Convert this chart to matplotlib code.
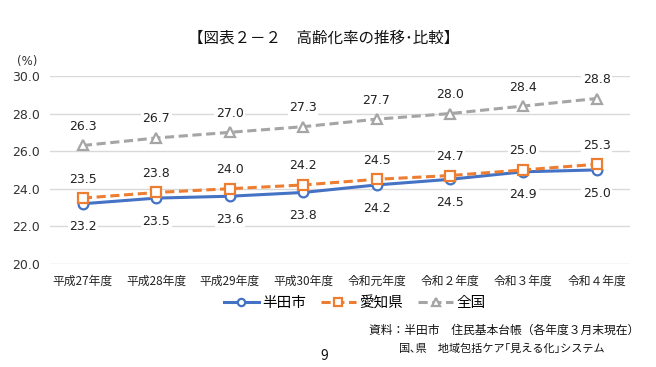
import matplotlib
matplotlib.use("Agg")
import matplotlib.pyplot as plt

plt.rcParams['font.family'] = ['Noto Sans CJK JP', 'DejaVu Sans']

categories = ["平成27年度", "平成28年度", "平成29年度", "平成30年度", "令和元年度", "令和２年度", "令和３年度", "令和４年度"]
handa = [23.2, 23.5, 23.6, 23.8, 24.2, 24.5, 24.9, 25.0]
aichi = [23.5, 23.8, 24.0, 24.2, 24.5, 24.7, 25.0, 25.3]
zenkoku = [26.3, 26.7, 27.0, 27.3, 27.7, 28.0, 28.4, 28.8]
yticks = [20.0, 22.0, 24.0, 26.0, 28.0, 30.0]

fig = plt.figure(figsize=(6.56, 3.67), dpi=100)
ax = fig.add_axes([0.076, 0.281, 0.884, 0.512])
x = list(range(len(categories)))

ax.plot(x, handa, color='#4472C4', lw=2.2, marker='o', ms=7, mfc='white', mec='#4472C4', mew=1.6, label='半田市', zorder=3)
ax.plot(x, aichi, color='#ED7D31', lw=2.2, ls=(0, (3, 1.5)), marker='s', ms=7, mfc='white', mec='#ED7D31', mew=1.6, label='愛知県', zorder=4)
ax.plot(x, zenkoku, color='#A5A5A5', lw=2.2, ls=(0, (3, 1.5)), marker='^', ms=7.5, mfc='white', mec='#A5A5A5', mew=1.6, label='全国', zorder=3)

num_font = ['DejaVu Sans']
bbox = dict(facecolor='white', edgecolor='none', pad=1)
for i in x:
    ax.annotate(f"{handa[i]:.1f}", (i, handa[i]), xytext=(0, -12), textcoords='offset points', ha='center', va='top', fontsize=9, family=num_font, color='#222222', bbox=bbox, zorder=5)
    ax.annotate(f"{aichi[i]:.1f}", (i, aichi[i]), xytext=(0, 9), textcoords='offset points', ha='center', va='bottom', fontsize=9, family=num_font, color='#222222', bbox=bbox, zorder=5)
    ax.annotate(f"{zenkoku[i]:.1f}", (i, zenkoku[i]), xytext=(0, 9), textcoords='offset points', ha='center', va='bottom', fontsize=9, family=num_font, color='#222222', bbox=bbox, zorder=5)

ax.set_xlim(-0.45, len(categories) - 0.55)
ax.set_ylim(20, 30)
ax.set_yticks(yticks)
ax.set_yticklabels([f"{v:.1f}" for v in yticks], fontsize=9, color='#333333', family=num_font)
ax.set_xticks(x)
ax.set_xticklabels(categories, fontsize=8.5, color='#222222')
ax.tick_params(axis='both', length=0)
ax.tick_params(axis='x', pad=8)
ax.tick_params(axis='y', pad=7)
ax.grid(axis='y', color='#D9D9D9', lw=1)
ax.set_axisbelow(True)
for s in ax.spines.values():
    s.set_visible(False)

fig.text(0.026, 0.832, "(%)", fontsize=8.5, color='#333333', ha='left', va='center', family=num_font)
fig.text(0.494, 0.896, "【図表２－２　高齢化率の推移･比較】", fontsize=11.2, ha='center', va='center', color='#111111')

leg = fig.legend(loc='center', bbox_to_anchor=(0.541, 0.174), ncol=3, frameon=False, fontsize=10.5,
                 handlelength=2.4, columnspacing=1.0, handletextpad=0.25, markerscale=0.75)

fig.text(0.975, 0.100, "資料：半田市　住民基本台帳（各年度３月末現在）", fontsize=8.5, ha='right', va='center', color='#111111')
fig.text(0.921, 0.050, "国､県　地域包括ケア｢見える化｣システム", fontsize=8.0, ha='right', va='center', color='#111111')
fig.text(0.495, 0.030, "9", fontsize=10, ha='center', va='center', color='#111111')

fig.savefig("out.png", dpi=100)
